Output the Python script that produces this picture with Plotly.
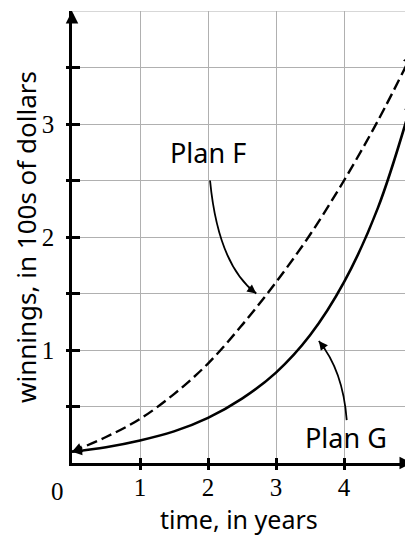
import plotly.graph_objects as go

years = [0, 0.5, 1, 1.5, 2, 2.5, 3, 3.5, 4, 4.5, 5]
plan_f = [0.10, 0.23, 0.39, 0.61, 0.88, 1.22, 1.60, 2.02, 2.50, 3.03, 3.62]
plan_g = [0.10, 0.14, 0.20, 0.28, 0.40, 0.57, 0.80, 1.13, 1.60, 2.26, 3.20]
x_ticks = [1, 2, 3, 4]
y_ticks = [0.5, 1, 1.5, 2, 2.5, 3, 3.5]
y_ticktext = ["", "1", "", "2", "", "3", ""]

OFF = 8  # page body margin
W, H = 413 - OFF, 536 - OFF
ML, MR, MT, MB = 72 - OFF, 1, 11 - OFF, 73
XR = [0, 5]
YR = [0, 4]
PW, PH = W - ML - MR, H - MT - MB
pxx = PW / (XR[1] - XR[0])
pxy = PH / (YR[1] - YR[0])

def paper_x(page_px):
    return (page_px - OFF - ML) / PW

def paper_y(page_py):
    return ((H - MB) - (page_py - OFF)) / PH

SANS = "Noto Sans"
SERIF = "Liberation Serif"

fig = go.Figure()
fig.add_trace(go.Scatter(x=years, y=plan_f, mode="lines", line=dict(color="black", width=2.4, dash="11px,5px", shape="spline"),
                         cliponaxis=False, showlegend=False, hoverinfo="skip"))
fig.add_trace(go.Scatter(x=years, y=plan_g, mode="lines", line=dict(color="black", width=2.6, shape="spline"),
                         cliponaxis=False, showlegend=False, hoverinfo="skip"))

ann = []

def end_arrow(xs, ys, i_head, i_prev, length=11):
    dx = (xs[i_prev] - xs[i_head]) * pxx
    dy = -(ys[i_prev] - ys[i_head]) * pxy
    n = (dx * dx + dy * dy) ** 0.5
    return dict(x=xs[i_head], y=ys[i_head], xref="x", yref="y", ax=dx / n * length, ay=dy / n * length,
                showarrow=True, arrowhead=2, arrowsize=1, arrowwidth=2, arrowcolor="black", text="", standoff=0)

for s in (plan_f, plan_g):
    ann.append(end_arrow(years, s, -1, -2))
ann.append(end_arrow(years, plan_f, 0, 1))
ann.append(end_arrow(years, plan_g, 0, 1))

# axis arrowheads
ann.append(dict(x=5, y=0, xref="x", yref="y", ax=-12, ay=0, showarrow=True, arrowhead=2, arrowsize=1,
                arrowwidth=2.5, arrowcolor="black", text="", standoff=0))
ann.append(dict(x=0, y=4, xref="x", yref="y", ax=0, ay=12, showarrow=True, arrowhead=2, arrowsize=1,
                arrowwidth=2.5, arrowcolor="black", text="", standoff=0))

# labels
ann.append(dict(x=2.0, y=2.75, xref="x", yref="y", text="Plan F", showarrow=False, xanchor="center", yanchor="middle",
                font=dict(family=SANS, size=27, color="black")))
ann.append(dict(x=4.03, y=0.23, xref="x", yref="y", text="Plan G", showarrow=False, xanchor="center", yanchor="middle",
                font=dict(family=SANS, size=27, color="black")))
# curved pointer heads
ann.append(dict(x=2.71, y=1.50, xref="x", yref="y", ax=-9, ay=-7, showarrow=True, arrowhead=2, arrowsize=1,
                arrowwidth=1.8, arrowcolor="black", text="", standoff=0))
ann.append(dict(x=3.63, y=1.08, xref="x", yref="y", ax=7, ay=9, showarrow=True, arrowhead=2, arrowsize=1,
                arrowwidth=1.8, arrowcolor="black", text="", standoff=0))

# origin label and titles
ann.append(dict(x=paper_x(57), y=paper_y(491), xref="paper", yref="paper", text="0", showarrow=False,
                xanchor="center", yanchor="middle", font=dict(family=SERIF, size=25, color="black")))
ann.append(dict(x=paper_x(239), y=paper_y(518.5), xref="paper", yref="paper", text="time, in years",
                showarrow=False, xanchor="center", yanchor="middle", font=dict(family=SANS, size=25, color="black")))
ann.append(dict(x=paper_x(26), y=paper_y(237), xref="paper", yref="paper",
                text="winnings, in 100s of dollars", textangle=-90, showarrow=False, xanchor="center", yanchor="middle",
                font=dict(family=SANS, size=26, color="black")))

shapes = [
    dict(type="line", x0=0, x1=5, y0=4, y1=4, xref="x", yref="y", layer="below", line=dict(color="#b0b0b0", width=1.2)),
    dict(type="path", path="M 2.03,2.50 Q 2.15,1.75 2.71,1.50", xref="x", yref="y", line=dict(color="black", width=1.8)),
    dict(type="path", path="M 4.04,0.38 Q 3.985,0.82 3.63,1.08", xref="x", yref="y", line=dict(color="black", width=1.8)),
]

fig.update_layout(
    width=W, height=H, margin=dict(l=ML, r=MR, t=MT, b=MB, autoexpand=False),
    plot_bgcolor="white", paper_bgcolor="white",
    annotations=ann, shapes=shapes,
    xaxis=dict(range=XR, tickvals=x_ticks, ticktext=[str(v) for v in x_ticks], ticks="inside", ticklen=5,
               tickwidth=2.5, tickcolor="black", showgrid=True, gridcolor="#b0b0b0", gridwidth=1.2,
               showline=True, linecolor="black", linewidth=2.5, zeroline=False, ticklabelstandoff=0,
               automargin=False, tickfont=dict(family=SERIF, size=25, color="black"), fixedrange=True),
    yaxis=dict(range=YR, tickvals=y_ticks, ticktext=y_ticktext, ticks="inside", ticklen=8,
               tickwidth=2.5, tickcolor="black", showgrid=True, gridcolor="#b0b0b0", gridwidth=1.2,
               showline=True, linecolor="black", linewidth=2.5, zeroline=False, ticklabelstandoff=10,
               automargin=False, tickfont=dict(family=SERIF, size=25, color="black"), fixedrange=True),
    xaxis2=dict(overlaying="x", matches="x", range=XR, tickvals=x_ticks, ticks="outside", ticklen=6, tickwidth=2.5,
                tickcolor="black", showticklabels=False, showgrid=False, zeroline=False, showline=False, automargin=False),
    yaxis2=dict(overlaying="y", matches="y", range=YR, tickvals=y_ticks, ticks="outside", ticklen=5, tickwidth=2.5,
                tickcolor="black", showticklabels=False, showgrid=False, zeroline=False, showline=False, automargin=False),
)
fig.add_trace(go.Scatter(x=[None], y=[None], xaxis="x2", yaxis="y2", showlegend=False, hoverinfo="skip"))

fig.write_html("out.html")
